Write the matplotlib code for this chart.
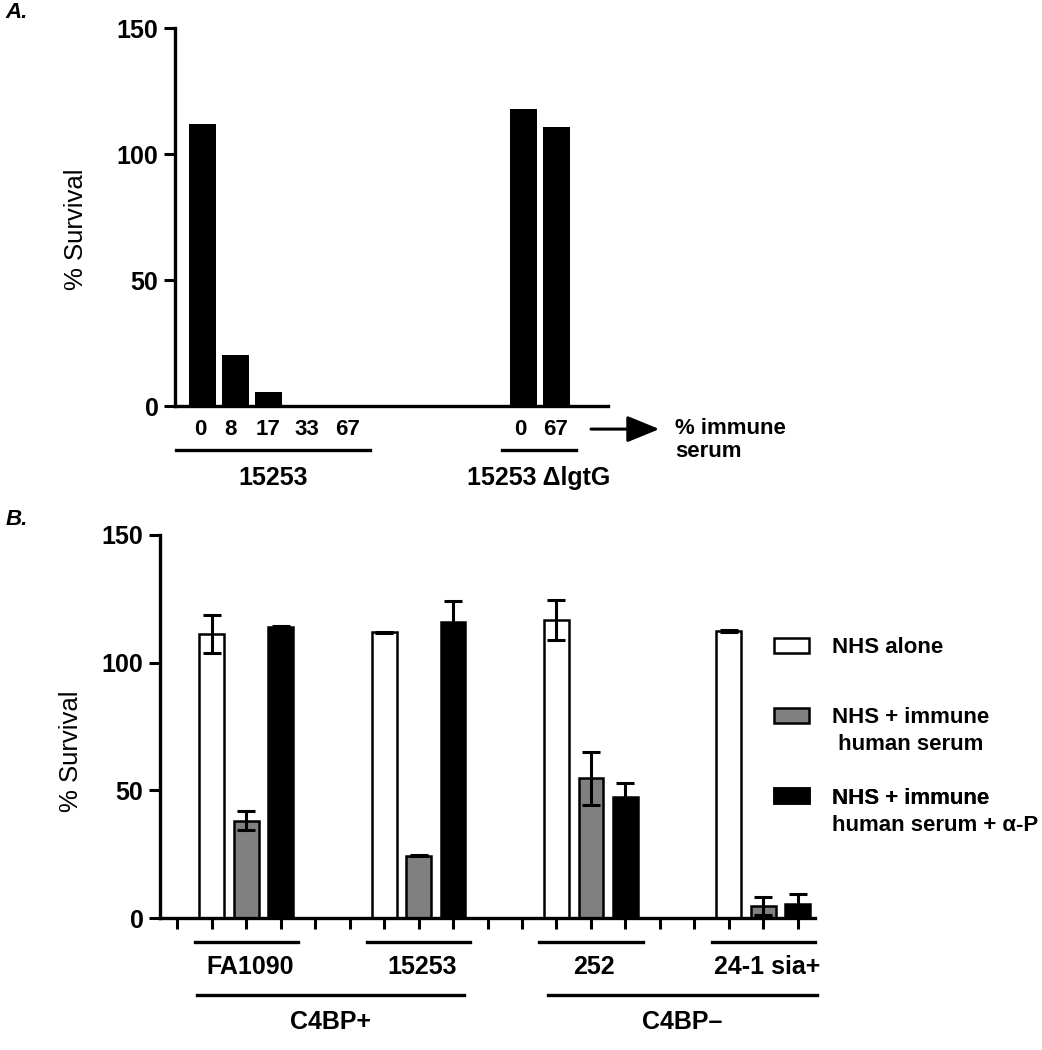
import matplotlib
matplotlib.use("Agg")
import matplotlib.pyplot as plt

plt.rcParams["font.family"] = ["Liberation Sans", "DejaVu Sans"]
plt.rcParams["font.size"] = 18

# Panel A data
a_labels_1 = ["0", "8", "17", "33", "67"]
a_vals_1 = [111.9, 20.2, 5.6, 0, 0]
a_labels_2 = ["0", "67"]
a_vals_2 = [118.0, 110.8]
a_groups = ["15253", "15253 \u0394lgtG"]

# Panel B data
b_strains = ["FA1090", "15253", "252", "24-1 sia+"]
b_classes = ["C4BP+", "C4BP\u2013"]
b_series = ["NHS alone", "NHS + immune\n human serum", "NHS + immune\nhuman serum + \u03b1-P"]
nhs_alone = [111.2, 112.0, 116.7, 112.4]
nhs_alone_err = [7.5, 0.2, 7.8, 0.2]
nhs_immune = [38.1, 24.4, 54.7, 4.7]
nhs_immune_err = [3.8, 0.3, 10.4, 3.7]
nhs_immune_ap = [114.0, 116.0, 47.5, 5.4]
nhs_immune_ap_err = [0.4, 8.3, 5.5, 4.2]

fig = plt.figure(figsize=(10.42, 10.5), dpi=100)

# ---------------- Panel A ----------------
axA = fig.add_axes([0.168, 0.6133, 0.4155, 0.36])
x1 = list(range(len(a_vals_1)))
x2 = [9.74 + i for i in range(len(a_vals_2))]
axA.bar(x1, a_vals_1, width=0.82, color="black")
axA.bar(x2, a_vals_2, width=0.82, color="black")
axA.set_xlim(-0.82, 12.3)
axA.set_ylim(0, 150)
axA.set_yticks([0, 50, 100, 150])
# labels sit a little right of the bars in the original
label_x = [-0.06, 0.85, 2.0, 3.18, 4.42, 9.64, 10.7]
axA.set_xticks(label_x, a_labels_1 + a_labels_2)
axA.tick_params(axis="x", length=0, pad=9, labelsize=16)
axA.tick_params(axis="y", length=8, width=2.2, pad=4, labelsize=18)
for lab in axA.get_xticklabels() + axA.get_yticklabels():
    lab.set_fontweight("bold")
for s in ["top", "right"]:
    axA.spines[s].set_visible(False)
for s in ["left", "bottom"]:
    axA.spines[s].set_linewidth(2.4)
axA.set_ylabel("% Survival", fontsize=18.5)
axA.yaxis.set_label_coords(-0.201, 0.468)

trA = axA.get_xaxis_transform()
for (xa, xb), name in zip([(-0.79, 5.09), (9.09, 11.33)], a_groups):
    axA.plot([xa, xb], [-0.1164, -0.1164], color="black", lw=2.4,
             transform=trA, clip_on=False)
    axA.text((xa + xb) / 2, -0.19, name, transform=trA, ha="center",
             va="center", fontweight="bold")
axA.annotate("", xy=(13.94, -0.061), xytext=(11.7, -0.061),
             xycoords=trA, textcoords=trA,
             arrowprops=dict(arrowstyle="-|>,head_length=1.1,head_width=0.45",
                             color="black", lw=2.2))
axA.text(14.33, -0.09, "% immune\nserum", transform=trA, ha="left",
         va="center", fontweight="bold", fontsize=16, linespacing=1.15)
fig.text(0.005, 0.988, "A.", fontweight="bold", fontstyle="italic",
         fontsize=16, va="center")

# ---------------- Panel B ----------------
axB = fig.add_axes([0.1536, 0.1257, 0.6286, 0.3648])
centers = [2, 7, 12, 17]
colors = ["white", "#808080", "black"]
vals = [nhs_alone, nhs_immune, nhs_immune_ap]
errs = [nhs_alone_err, nhs_immune_err, nhs_immune_ap_err]
handles = []
for k in range(3):
    xs = [c + k - 1 for c in centers]
    h = axB.bar(xs, vals[k], width=0.72, color=colors[k], edgecolor="black",
                linewidth=1.8, zorder=2)
    axB.errorbar(xs, vals[k], yerr=errs[k], fmt="none", ecolor="black",
                 elinewidth=2.2, capsize=6.5, capthick=2.2, zorder=3)
    handles.append(h)
axB.set_xlim(-0.5, 18.5)
axB.set_ylim(0, 150)
axB.set_yticks([0, 50, 100, 150])
axB.set_xticks(range(19), [""] * 19)
axB.tick_params(axis="x", length=8, width=2.2)
axB.tick_params(axis="y", length=8, width=2.2, pad=4, labelsize=18)
for lab in axB.get_yticklabels():
    lab.set_fontweight("bold")
for s in ["top", "right"]:
    axB.spines[s].set_visible(False)
for s in ["left", "bottom"]:
    axB.spines[s].set_linewidth(2.4)
axB.set_ylabel("% Survival", fontsize=18.5)
axB.yaxis.set_label_coords(-0.1176, 0.436)

trB = axB.get_xaxis_transform()
for c, name in zip(centers, b_strains):
    axB.plot([c - 1.5, c + 1.5], [-0.0627, -0.0627], color="black", lw=2.4,
             transform=trB, clip_on=False)
    axB.text(c + 0.1, -0.128, name, transform=trB, ha="center", va="center",
             fontweight="bold")
for (xa, xb), name in zip([(0.58, 8.33), (10.74, 18.56)], b_classes):
    axB.plot([xa, xb], [-0.201, -0.201], color="black", lw=2.4,
             transform=trB, clip_on=False)
    axB.text((xa + xb) / 2, -0.2715, name, transform=trB, ha="center",
             va="center", fontweight="bold")

# legend: swatch lines up with the first text line, second line hangs below
leg_y = [0.7063, 0.5222, 0.3133]
for h, label, y in zip(handles, b_series, leg_y):
    first, *rest = label.split("\n")
    leg = axB.legend([h], [first], loc="center left", bbox_to_anchor=(0.9374, y),
                     frameon=False, handlelength=1.58, handleheight=0.68,
                     handletextpad=1.04, borderpad=0, borderaxespad=0,
                     prop={"weight": "bold", "size": 16})
    axB.add_artist(leg)
    for line in rest:
        axB.text(1.026, y - 0.0705, line, transform=axB.transAxes, ha="left",
                 va="center", fontweight="bold", fontsize=16)
fig.text(0.005, 0.505, "B.", fontweight="bold", fontstyle="italic",
         fontsize=16, va="center")

fig.savefig("out.png", dpi=100)
